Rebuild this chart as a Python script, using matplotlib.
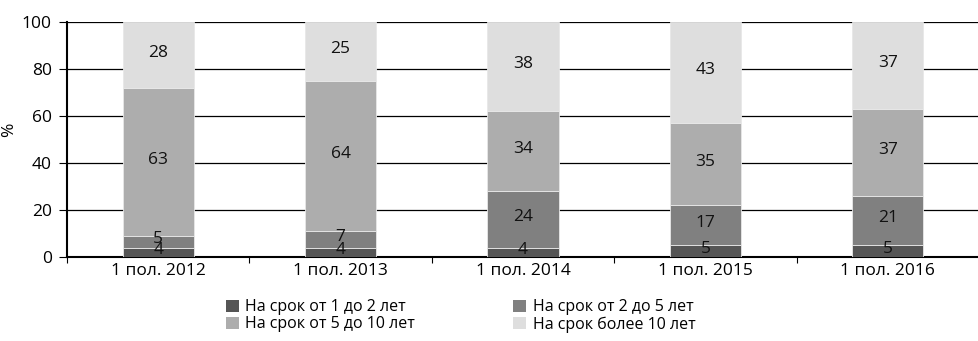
import numpy as np
import matplotlib
matplotlib.use('Agg')
from matplotlib import pyplot as plt
from matplotlib.patches import Patch

plt.rcParams['font.family'] = ['Open Sans', 'DejaVu Sans']

periods = ['1 пол. 2012', '1 пол. 2013', '1 пол. 2014', '1 пол. 2015', '1 пол. 2016']
term_1_2 = [4, 4, 4, 5, 5]
term_2_5 = [5, 7, 24, 17, 21]
term_5_10 = [63, 64, 34, 35, 37]
term_10_plus = [28, 25, 38, 43, 37]

series_names = ['На срок от 1 до 2 лет', 'На срок от 2 до 5 лет',
                'На срок от 5 до 10 лет', 'На срок более 10 лет']
colors = ['#555555', '#808080', '#adadad', '#dedede']

fs = 12.5

fig = plt.figure(figsize=(9.79, 3.41), dpi=100)
ax = fig.add_axes([0.0684, 0.246, 0.9316, 0.689])

x = np.arange(len(periods))
bottom = np.zeros(len(periods))
series = [term_1_2, term_2_5, term_5_10, term_10_plus]
for vals, col in zip(series, colors):
    vals = np.array(vals)
    ax.bar(x, vals, 0.39, bottom=bottom, color=col, edgecolor='#e8e8e8',
           linewidth=0.6, zorder=3)
    for xi, b, v in zip(x, bottom, vals):
        ax.text(xi, b + v / 2 + 1, str(v), ha='center', va='center',
                fontsize=fs, color='#111111', zorder=4)
    bottom += vals

ax.set_ylim(0, 100)
ax.set_xlim(-0.5, 4.46)
ax.set_yticks(range(0, 101, 20))
ax.yaxis.grid(True, color='black', linewidth=0.9, zorder=0)
ax.set_axisbelow(True)
ax.set_xticks(x)
ax.set_xticklabels(periods, fontsize=fs)
ax.set_xticks(np.arange(-0.5, 4.6, 1), minor=True)
ax.tick_params(axis='x', which='major', length=0, pad=4)
ax.tick_params(axis='x', which='minor', length=4, width=0.8, direction='out')
ax.tick_params(axis='y', length=6, width=0.8, labelsize=fs, pad=5)
ax.set_ylabel('%', fontsize=fs)
ax.yaxis.set_label_coords(-0.055, 0.54)

for s in ['top', 'right']:
    ax.spines[s].set_visible(False)
ax.spines['left'].set_linewidth(1.5)
ax.spines['bottom'].set_linewidth(1.5)

handles = [Patch(facecolor=c, edgecolor='none') for c in colors]
order = [0, 2, 1, 3]
fig.legend([handles[i] for i in order], [series_names[i] for i in order],
           ncol=2, loc='upper left', bbox_to_anchor=(0.231, 0.122),
           frameon=False, fontsize=11.5, handlelength=0.8, handleheight=0.8,
           handletextpad=0.4, columnspacing=6.15, labelspacing=0.05,
           borderpad=0, borderaxespad=0)

fig.savefig('out.png', dpi=100)
